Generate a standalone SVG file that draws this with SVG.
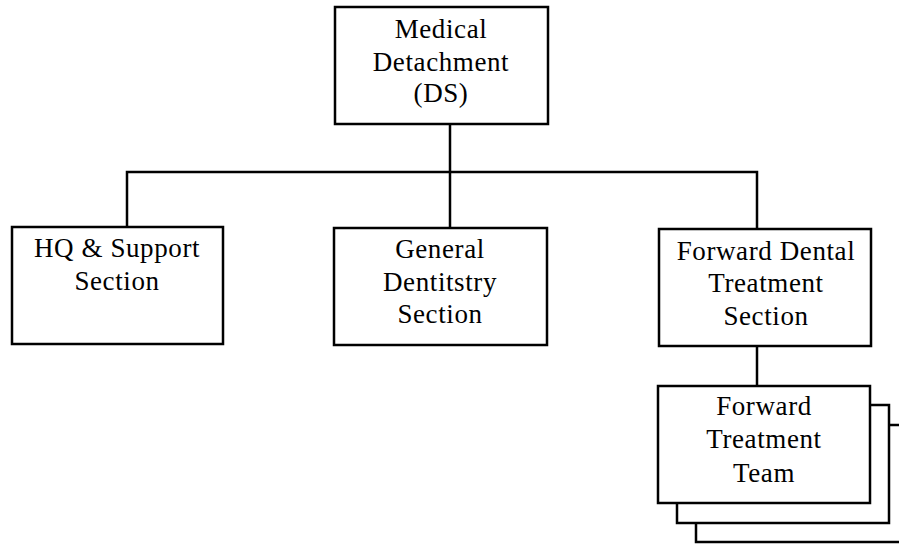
<svg xmlns="http://www.w3.org/2000/svg" width="899" height="544" viewBox="0 0 899 544">
  <style>
    .box { fill: #fff; stroke: #000; stroke-width: 2.5; }
    .wire { fill: none; stroke: #000; stroke-width: 2.5; }
    text { font-family: "Liberation Serif", "Times New Roman", serif; font-size: 27px; letter-spacing: 0.6px; fill: #000; text-anchor: middle; }
  </style>
  <rect width="899" height="544" fill="#fff"/>

  <!-- connectors -->
  <g id="connectors">
    <path class="wire" d="M450 124 V346"/>
    <path class="wire" d="M127 227 V172 H757 V229"/>
    <path class="wire" d="M757 346 V386"/>
  </g>

  <g id="medical-detachment">
    <rect class="box" x="335" y="7" width="213" height="117"/>
    <text x="441" y="38">Medical</text>
    <text x="441" y="71">Detachment</text>
    <text x="441" y="102">(DS)</text>
  </g>

  <g id="hq-support">
    <rect class="box" x="12" y="227" width="211" height="117"/>
    <text x="117" y="257">HQ &amp; Support</text>
    <text x="117" y="290">Section</text>
  </g>

  <g id="general-dentistry">
    <rect class="box" x="334" y="228" width="213" height="117"/>
    <text x="440" y="258">General</text>
    <text x="440" y="291">Dentitstry</text>
    <text x="440" y="323">Section</text>
  </g>

  <g id="forward-dental">
    <rect class="box" x="659" y="229" width="212" height="117"/>
    <text x="766" y="260">Forward Dental</text>
    <text x="766" y="292">Treatment</text>
    <text x="766" y="325">Section</text>
  </g>

  <g id="forward-treatment-team">
    <rect class="box" x="696" y="425" width="220" height="117"/>
    <rect class="box" x="677" y="405" width="212" height="118"/>
    <rect class="box" x="658" y="386" width="212" height="117"/>
    <text x="764" y="415">Forward</text>
    <text x="764" y="448">Treatment</text>
    <text x="764" y="482">Team</text>
  </g>
</svg>
